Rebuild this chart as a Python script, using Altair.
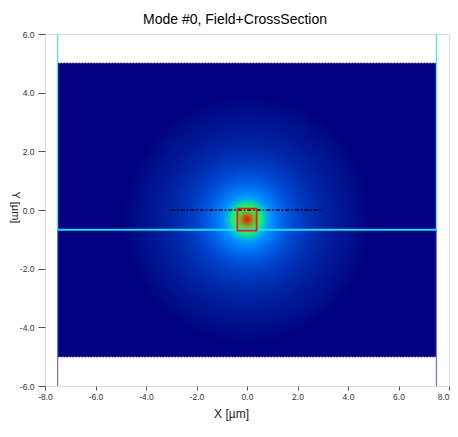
import altair as alt
import pandas as pd

# ---------------- data ----------------
TITLE = "Mode #0, Field+CrossSection"
x_domain = [-8.0, 8.0]
y_domain = [-6.0, 6.0]
x_ticks = [-8.0, -6.0, -4.0, -2.0, 0.0, 2.0, 4.0, 6.0, 8.0]
y_ticks = [-6.0, -4.0, -2.0, 0.0, 2.0, 4.0, 6.0]

# computational window (navy field region)
window_x = [-7.5, 7.5]
window_y = [-5.0, 5.0]

# mode field: centre and radial colour profile (radius in um, colour seen)
field_cx = 0.0
field_cy = -0.32
glow_r = [0.0, 0.07, 0.15, 0.25, 0.36, 0.48, 0.60, 0.72, 0.84, 0.96, 1.10,
          1.32, 1.63, 2.02, 2.49, 3.04, 3.66, 4.28, 4.98]
glow_colors = ["#ff1000", "#e83000", "#b86010", "#88a028", "#58d040",
               "#38ec58", "#18e488", "#00c8c0", "#00a8ec", "#0090ff",
               "#0080fc", "#006cf0", "#0056de", "#0042ca", "#0032b6",
               "#0024a4", "#001896", "#000e8a", "#000080"]

# cross-section cut line
cut_x = [-3.0, 3.0]
cut_y = 0.0
# waveguide core outline
core_x = [-0.38, 0.38]
core_y = [-0.70, 0.05]
# guide lines
guide_x = [-7.5, 7.5]
guide_split_y = -0.67

# ---------------- layout ----------------
W, H = 404, 352
FONT = "Liberation Sans, Arial, sans-serif"
LABEL_EXPR = "(datum.value < 0 ? '-' : '') + format(abs(datum.value), '.1f')"

xs = alt.Scale(domain=x_domain, nice=False, zero=False)
ys = alt.Scale(domain=y_domain, nice=False, zero=False)
x_axis = alt.Axis(title="X [µm]", values=x_ticks, labelExpr=LABEL_EXPR, grid=False,
                  domain=False, tickSize=4, tickColor="#555555",
                  labelFlush=False, labelOverlap=False, labelBound=False,
                  labelAlign={"condition": {"test": "datum.value >= 8", "value": "right"},
                              "value": "center"},
                  labelFont=FONT, labelFontSize=8.5, labelColor="#333333",
                  labelPadding=2, titleFont=FONT, titleFontSize=12,
                  titleFontWeight="normal", titleColor="#222222",
                  titleX=186, titleY=31, titleBaseline="alphabetic")
y_axis = alt.Axis(title="Y [µm]", values=y_ticks, labelExpr=LABEL_EXPR, grid=False,
                  domain=False, tickSize=7, tickColor="#555555",
                  labelFlush=False, labelOverlap=False, labelBound=False,
                  labelFont=FONT, labelFontSize=8.5, labelColor="#333333",
                  labelPadding=4, titleFont=FONT, titleFontSize=11,
                  titleFontWeight="normal", titleColor="#222222",
                  titleAngle=90, titleX=-31, titleY=H / 2 - 3,
                  titleAlign="center", titleBaseline="middle")


def X(f="x"):
    return alt.X(f + ":Q", scale=xs, axis=x_axis)


def Y(f="y"):
    return alt.Y(f + ":Q", scale=ys, axis=y_axis)


# navy window
win_df = pd.DataFrame({"x": [window_x[0]], "x2": [window_x[1]],
                       "y": [window_y[0]], "y2": [window_y[1]]})
window = alt.Chart(win_df).mark_rect(color="#000080").encode(
    x=X(), x2="x2:Q", y=Y(), y2="y2:Q")

# glow (square in pixels so the radial gradient is circular)
R = glow_r[-1]
hy = R * (W / 16.0) / (H / 12.0)
glow_df = pd.DataFrame({"x": [field_cx - R], "x2": [field_cx + R],
                        "y": [field_cy - hy], "y2": [field_cy + hy]})
gradient = {
    "gradient": "radial",
    "x1": 0.5, "y1": 0.5, "r1": 0,
    "x2": 0.5, "y2": 0.5, "r2": 0.5,
    "stops": [{"offset": r / R, "color": c} for r, c in zip(glow_r, glow_colors)],
}
glow = alt.Chart(glow_df).mark_rect(fill=gradient, strokeWidth=0).encode(
    x=X(), x2="x2:Q", y=Y(), y2="y2:Q")

# dotted window edges
edge_df = pd.DataFrame({"y": window_y, "x": [window_x[0]] * 2, "x2": [window_x[1]] * 2})
edges = alt.Chart(edge_df).mark_rule(color="#000060", strokeDash=[1, 2],
                                     strokeWidth=1.5).encode(
    x=X(), x2="x2:Q", y=Y())

# horizontal guide line
hl_df = pd.DataFrame({"y": [guide_split_y], "x": [guide_x[0]], "x2": [guide_x[1]]})
hline = alt.Chart(hl_df).mark_rule(color="#22dcff", strokeWidth=2).encode(
    x=X(), x2="x2:Q", y=Y())

# vertical guide lines (cyan above, blue below)
vu_df = pd.DataFrame({"x": guide_x, "y": [guide_split_y] * 2, "y2": [y_domain[1]] * 2})
vd_df = pd.DataFrame({"x": guide_x, "y": [y_domain[0]] * 2, "y2": [guide_split_y] * 2})
vup = alt.Chart(vu_df).mark_rule(color="#40e8f4", strokeWidth=1.2).encode(
    x=X(), y=Y(), y2="y2:Q")
vdn = alt.Chart(vd_df).mark_rule(color="#6a6aff", strokeWidth=1.2).encode(
    x=X(), y=Y(), y2="y2:Q")

# cross-section cut line
cut_df = pd.DataFrame({"x": [cut_x[0]], "x2": [cut_x[1]], "y": [cut_y]})
cut = alt.Chart(cut_df).mark_rule(color="black", strokeWidth=1.6,
                                  strokeDash=[4, 2, 1.5, 2]).encode(
    x=X(), x2="x2:Q", y=Y())

# core outline
core_df = pd.DataFrame({"x": [core_x[0]], "x2": [core_x[1]],
                        "y": [core_y[0]], "y2": [core_y[1]]})
core = alt.Chart(core_df).mark_rect(fill=None, fillOpacity=0, stroke="#e02020",
                                    strokeWidth=1.8).encode(
    x=X(), x2="x2:Q", y=Y(), y2="y2:Q")

chart = alt.layer(window, glow, edges, hline, vup, vdn, cut, core).properties(
    width=W, height=H,
    title=alt.TitleParams(TITLE, font=FONT, fontSize=14, fontWeight="normal",
                          color="black", offset=3, dx=-12),
    autosize=alt.AutoSizeParams(type="none"),
    padding={"left": 37, "top": 26, "right": 1, "bottom": 36},
).configure_view(stroke="#3a3a3a", strokeWidth=2).configure(background="white")

chart.save("out.html", embed_options={"renderer": "svg", "actions": False})
